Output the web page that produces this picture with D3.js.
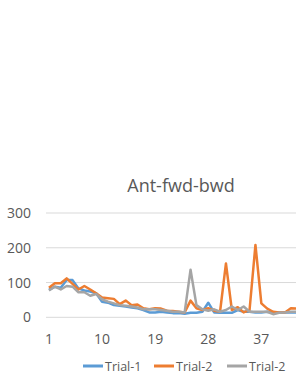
<!DOCTYPE html>
<html>
<head>
<meta charset="utf-8">
<script src="https://cdn.jsdelivr.net/npm/d3@7"></script>
<style>
  body { margin: 0; background: white; }
  svg { font-family: "Open Sans", sans-serif; }
</style>
</head>
<body>
<div id="chart"></div>
<script>
// tamaños
var chart_width  = 296;
var chart_height = 383;

var margin = { top: 213, bottom: 317.3, left: 46 };
var step = 5.9; // ancho de cada categoria

// datos
var title = "Ant-fwd-bwd";
var seriesNames = ["Trial-1", "Trial-2", "Trial-2"];
var colors = ["#5B9BD5", "#ED7D31", "#A5A5A5"];
var yTicks = [0, 100, 200, 300];
var xLabels = [1, 10, 19, 28, 37];

var trial1 = [79, 88, 85, 107, 107, 83, 77, 74, 69, 45, 42, 35, 33, 31, 28, 26, 21, 14, 14, 16, 14, 12,
  12, 10, 13, 13, 16, 42, 14, 13, 13, 13, 21, 16, 16, 14, 14, 16, 14, 14, 14, 14, 14, 14];
var trial2 = [85, 98, 98, 112, 96, 80, 90, 80, 69, 57, 55, 53, 38, 48, 35, 37, 26, 23, 26, 25, 19, 18,
  16, 14, 48, 26, 21, 26, 19, 16, 155, 21, 29, 14, 21, 208, 40, 25, 16, 14, 14, 26, 25, 25];
var trial3 = [77, 88, 80, 90, 88, 72, 72, 62, 67, 52, 45, 40, 35, 33, 31, 28, 23, 23, 23, 21, 19, 16,
  16, 14, 137, 35, 23, 19, 23, 16, 21, 31, 21, 31, 16, 16, 16, 16, 9, 13, 14, 16, 16, 16];

var categories = d3.range(1, 53);
var series = [trial1, trial2, trial3];

var svg = d3.select("#chart")
  .append("svg")
  .attr("width", chart_width)
  .attr("height", chart_height);

// escalas
var escalaX = d3.scaleBand()
  .domain(categories)
  .range([margin.left, margin.left + categories.length * step])
  .padding(0);

var escalaY = d3.scaleLinear()
  .domain([0, 300])
  .range([margin.bottom, margin.top]);

function px(i) { return escalaX(categories[i]) + escalaX.bandwidth() / 2; }

// titulo
svg.append("text")
  .attr("x", 181)
  .attr("y", 192)
  .attr("text-anchor", "middle")
  .style("font-size", "18px")
  .style("fill", "#595959")
  .text(title);

// grid
svg.append("g")
  .selectAll("line")
  .data(yTicks)
  .join("line")
  .attr("x1", margin.left)
  .attr("x2", margin.left + categories.length * step)
  .attr("y1", d => escalaY(d))
  .attr("y2", d => escalaY(d))
  .attr("stroke", "#D9D9D9")
  .attr("stroke-width", 1);

// eje Y
svg.append("g")
  .selectAll("text")
  .data(yTicks)
  .join("text")
  .attr("x", 31)
  .attr("y", d => escalaY(d) + 5)
  .attr("text-anchor", "end")
  .style("font-size", "14px")
  .style("fill", "#595959")
  .text(d => d);

// eje X
svg.append("g")
  .selectAll("text")
  .data(xLabels)
  .join("text")
  .attr("x", d => escalaX(d) + escalaX.bandwidth() / 2)
  .attr("y", 344)
  .attr("text-anchor", "middle")
  .style("font-size", "14px")
  .style("fill", "#595959")
  .text(d => d);

// lineas
var line = d3.line()
  .x((d, i) => px(i))
  .y(d => escalaY(d));

svg.append("g")
  .selectAll("path")
  .data(series)
  .join("path")
  .attr("fill", "none")
  .attr("stroke", (d, i) => colors[i])
  .attr("stroke-width", 2.5)
  .attr("stroke-linejoin", "round")
  .attr("d", line);

// leyenda
var legendX = [83, 154, 227];
var leg = svg.append("g")
  .selectAll("g")
  .data(seriesNames)
  .join("g")
  .attr("transform", (d, i) => "translate(" + legendX[i] + ",366)");

leg.append("line")
  .attr("x1", 0).attr("x2", 20)
  .attr("y1", 0).attr("y2", 0)
  .attr("stroke", (d, i) => colors[i])
  .attr("stroke-width", 3);

leg.append("text")
  .attr("x", 22)
  .attr("y", 4.5)
  .style("font-size", "12.5px")
  .style("fill", "#595959")
  .text(d => d);
</script>
</body>
</html>
